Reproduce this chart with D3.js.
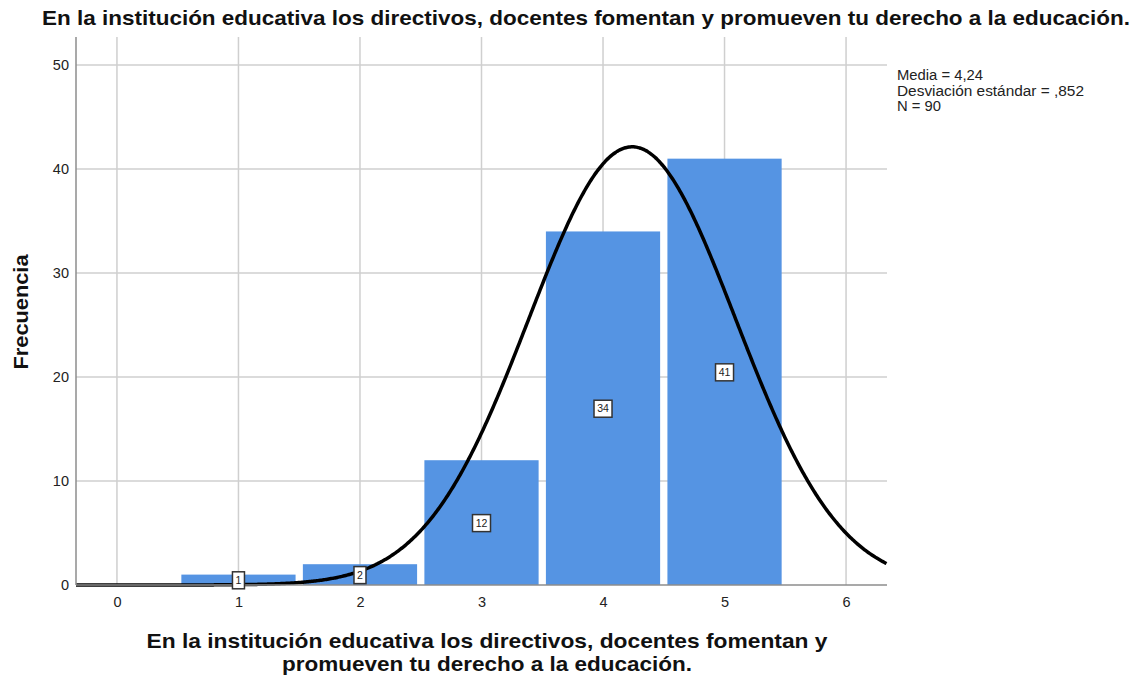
<!DOCTYPE html>
<html><head><meta charset="utf-8">
<script src="https://cdn.jsdelivr.net/npm/d3@7"></script>
<style>body{margin:0;background:#fff}svg{display:block}text{font-family:"Liberation Sans",Arial,sans-serif}</style>
</head><body>
<svg id="c" width="1142" height="679"></svg>
<script>
const categories = [1, 2, 3, 4, 5];
const frequencies = [1, 2, 12, 34, 41];
const xTicks = [0, 1, 2, 3, 4, 5, 6];
const yTicks = [0, 10, 20, 30, 40, 50];
const mean = 4.24, sd = 0.852, n = 90;
const statsLines = ["Media = 4,24", "Desviación estándar = ,852", "N = 90"];
const title = "En la institución educativa los directivos, docentes fomentan y promueven tu derecho a la educación.";
const xTitle = ["En la institución educativa los directivos, docentes fomentan y", "promueven tu derecho a la educación."];
const yTitle = "Frecuencia";

const svg = d3.select("#c");
const L = 76, R = 887, T = 37, B = 585;
const x = d3.scaleLinear().domain([-0.337, 6.337]).range([L, R]);
const y = d3.scaleLinear().domain([0, 52.7]).range([B, T]);

// grid
svg.append("g").selectAll("line").data(xTicks).join("line")
  .attr("x1", d => x(d)).attr("x2", d => x(d)).attr("y1", T).attr("y2", B)
  .attr("stroke", "#cfcfcf").attr("stroke-width", 1.5);
svg.append("g").selectAll("line").data(yTicks.filter(d => d > 0)).join("line")
  .attr("x1", L).attr("x2", R).attr("y1", d => y(d)).attr("y2", d => y(d))
  .attr("stroke", "#cfcfcf").attr("stroke-width", 1.5);

// bars
const gap = 0.03;
svg.append("g").selectAll("rect").data(categories).join("rect")
  .attr("x", (d) => x(d - 0.5 + gap))
  .attr("width", x(1 - 2 * gap) - x(0))
  .attr("y", (d, i) => y(frequencies[i]))
  .attr("height", (d, i) => B - y(frequencies[i]))
  .attr("fill", "#5594e3");

// normal curve
const pts = d3.range(-0.337, 6.3371, 0.01).map(v => [v, n / (sd * Math.sqrt(2 * Math.PI)) * Math.exp(-0.5 * ((v - mean) / sd) ** 2)]);
svg.append("path").datum(pts)
  .attr("d", d3.line().x(d => x(d[0])).y(d => y(d[1])).curve(d3.curveBasis))
  .attr("fill", "none").attr("stroke", "#000").attr("stroke-width", 3.5);

// axes
const yAxis = d3.axisLeft(y).tickValues(yTicks).tickFormat(d3.format("d")).tickSize(0).tickSizeOuter(0);
const gy = svg.append("g").attr("transform", `translate(${L},0)`).call(yAxis);
const xAxis = d3.axisBottom(x).tickValues(xTicks).tickFormat(d3.format("d")).tickSize(0).tickSizeOuter(0);
const gx = svg.append("g").attr("transform", `translate(0,${B})`).call(xAxis);
[gy, gx].forEach(g => {
  g.select(".domain").attr("stroke", "#8c8c8c").attr("stroke-width", 1.5);
  g.selectAll("text").attr("font-size", 14.5).attr("fill", "#222").attr("font-family", "Liberation Sans, Arial, sans-serif");
});
gy.select(".domain").attr("d", `M0,${T}V${B}`);
gx.select(".domain").attr("d", `M${L},0H${R}`);
gy.selectAll(".tick text").attr("x", -7);
gx.selectAll(".tick text").attr("dy", "1.3em");

// value labels
const lab = svg.append("g").selectAll("g").data(categories).join("g")
  .attr("transform", (d, i) => `translate(${x(d)},${y(frequencies[i] / 2)})`);
lab.append("rect").attr("x", (d, i) => frequencies[i] >= 10 ? -9 : -6).attr("y", -8)
  .attr("width", (d, i) => frequencies[i] >= 10 ? 18 : 12).attr("height", 17)
  .attr("fill", "#fff").attr("stroke", "#333").attr("stroke-width", 1.5);
lab.append("text").text((d, i) => frequencies[i]).attr("text-anchor", "middle")
  .attr("dy", "0.4em").attr("font-size", 10.5).attr("fill", "#222");

// titles
svg.append("text").attr("x", 42).attr("y", 25)
  .attr("font-size", 21).attr("font-weight", "bold").attr("fill", "#111")
  .attr("textLength", 1088).attr("lengthAdjust", "spacingAndGlyphs").text(title);
const xtLens = [681, 410];
svg.append("g").selectAll("text").data(xTitle).join("text")
  .attr("x", 487).attr("y", (d, i) => 648 + i * 23).attr("text-anchor", "middle")
  .attr("font-size", 21).attr("font-weight", "bold").attr("fill", "#111")
  .attr("textLength", (d, i) => xtLens[i]).attr("lengthAdjust", "spacingAndGlyphs").text(d => d);
svg.append("text").attr("transform", "translate(28,312) rotate(-90)").attr("text-anchor", "middle")
  .attr("font-size", 21).attr("font-weight", "bold").attr("fill", "#111")
  .attr("textLength", 115).attr("lengthAdjust", "spacingAndGlyphs").text(yTitle);

const stLens = [86, 187, 44];
svg.append("g").selectAll("text").data(statsLines).join("text")
  .attr("x", 897).attr("y", (d, i) => 80 + i * 15.7)
  .attr("font-size", 14).attr("fill", "#222")
  .attr("textLength", (d, i) => stLens[i]).attr("lengthAdjust", "spacingAndGlyphs").text(d => d);
</script>
</body></html>
